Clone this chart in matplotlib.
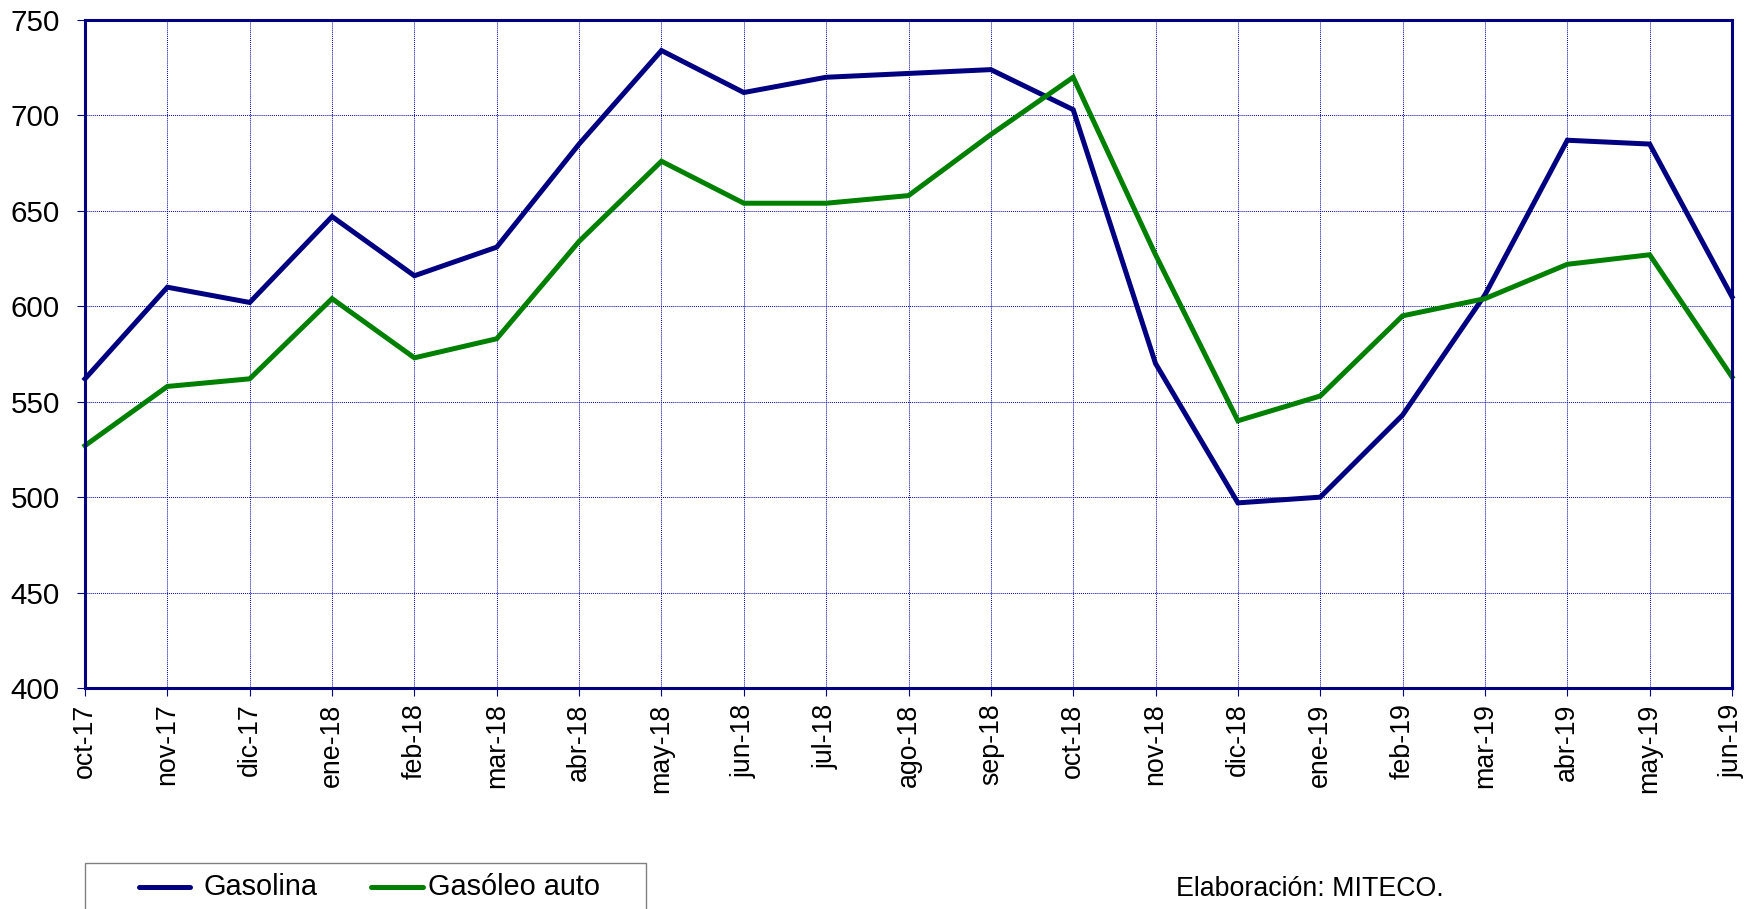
import matplotlib
matplotlib.use("Agg")
import matplotlib.pyplot as plt
from matplotlib.lines import Line2D
from matplotlib.patches import Rectangle

plt.rcParams['font.family'] = ['Liberation Sans', 'DejaVu Sans']

months = ["oct-17", "nov-17", "dic-17", "ene-18", "feb-18", "mar-18", "abr-18",
          "may-18", "jun-18", "jul-18", "ago-18", "sep-18", "oct-18", "nov-18",
          "dic-18", "ene-19", "feb-19", "mar-19", "abr-19", "may-19", "jun-19"]
gasolina = [562, 610, 602, 647, 616, 631, 685, 734, 712, 720, 722, 724, 703,
            570, 497, 500, 543, 606, 687, 685, 605]
gasoleo = [527, 558, 562, 604, 573, 583, 634, 676, 654, 654, 658, 690, 720,
           627, 540, 553, 595, 604, 622, 627, 563]
yticks = [400, 450, 500, 550, 600, 650, 700, 750]

W, H = 1749, 909
fig = plt.figure(figsize=(W / 100, H / 100), dpi=100)
ax = fig.add_axes([85 / W, 1 - 688 / H, (1732 - 85) / W, (688 - 20) / H])

x = list(range(len(months)))
navy = "#000080"
green = "#008000"
ax.plot(x, gasolina, color=navy, lw=3.6, solid_joinstyle='miter', zorder=3,
        clip_on=False)
ax.plot(x, gasoleo, color=green, lw=3.6, solid_joinstyle='miter', zorder=3,
        clip_on=False)

ax.set_xlim(0, len(months) - 1)
ax.set_ylim(400, 750)
ax.set_yticks(yticks)
ax.set_xticks(x)
ax.set_xticklabels(months, rotation=90, fontsize=19.3)
ax.tick_params(axis='y', labelsize=21.3, length=6, width=0.8, color=navy, pad=12)
ax.tick_params(axis='x', length=6, width=0.8, color=navy, pad=5)
ax.grid(True, color="#0000a8", linestyle=(0, (1, 1)), linewidth=0.7)
for s in ax.spines.values():
    s.set_color(navy)
    s.set_linewidth(2.2)
    s.set_zorder(4)

# legend box
fig.patches.append(Rectangle((85 / W, -0.05), (646 - 85) / W, 0.05 + 1 - 863 / H,
                             transform=fig.transFigure, fill=False,
                             edgecolor="#808080", linewidth=1.0))
ly = 1 - 887 / H
fig.add_artist(Line2D([139 / W, 190 / W], [ly, ly], color=navy, lw=3.6,
                      solid_capstyle='round', transform=fig.transFigure))
fig.text(204 / W, ly, "Gasolina", fontsize=20.8, va='center', ha='left')
fig.add_artist(Line2D([371 / W, 423 / W], [ly, ly], color=green, lw=3.6,
                      solid_capstyle='round', transform=fig.transFigure))
fig.text(428 / W, ly, "Gasóleo auto", fontsize=20.8, va='center', ha='left')

fig.text(1176 / W, 1 - 889 / H, "Elaboración: MITECO.", fontsize=19.3,
         va='center', ha='left')

fig.savefig("out.png", dpi=100)
